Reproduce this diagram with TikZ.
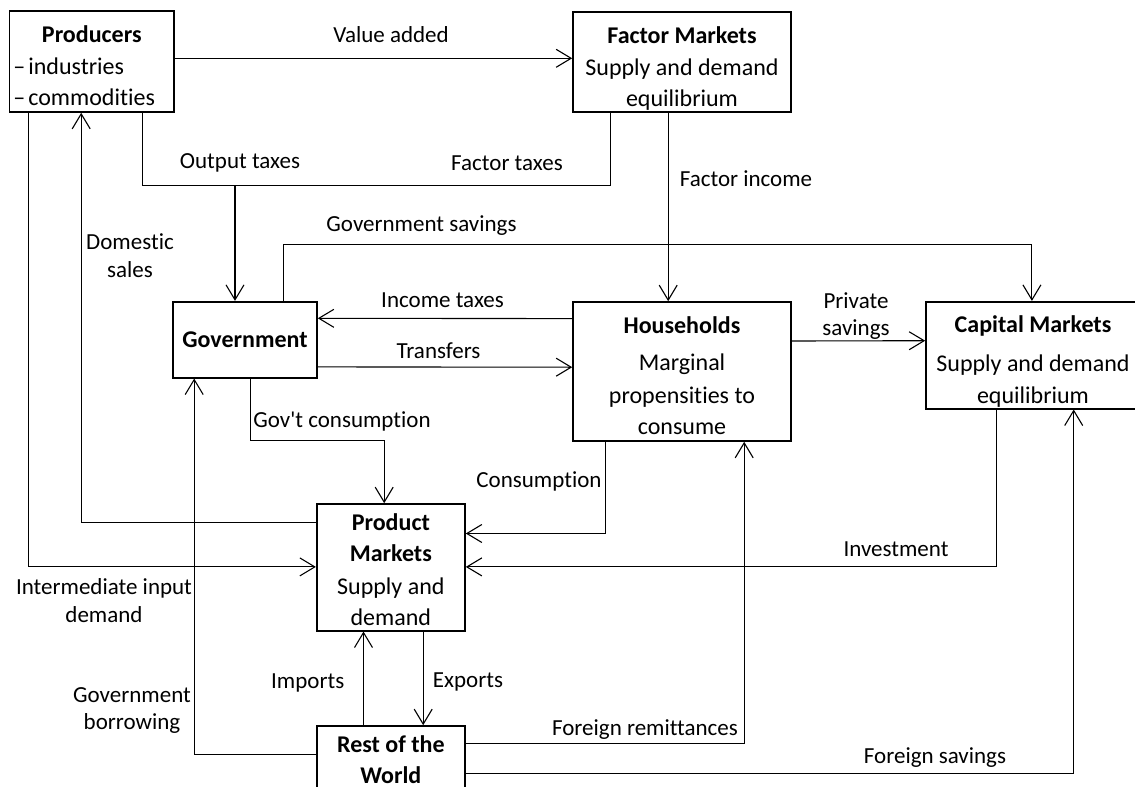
\documentclass[tikz,border=0pt]{standalone}
\usepackage{fontspec}
\newfontfamily\calib{Carlito}[Ligatures=NoCommon]
\usetikzlibrary{arrows.meta,calc}
\newcommand\boxfont{\calib\fontsize{24}{31.5}\selectfont}
\newcommand\lblfont{\calib\fontsize{23}{27.5}\selectfont}
\newcommand\pushdown[1]{\rule{0pt}{#1}}
\tikzset{
  box/.style={draw, line width=1.6pt, inner sep=0pt, align=center, font=\boxfont},
  conn/.style={line width=1.1pt},
  arr/.style={line width=1.1pt, -{Straight Barb[length=15pt,width=18pt]}},
  lbl/.style={inner sep=0pt, align=center, font=\lblfont},
}
\begin{document}
\begin{tikzpicture}[x=1pt,y=-1pt]
\useasboundingbox (0,0) rectangle (1135,787);
\fill[white] (0,0) rectangle (1135,787);
\clip (0,0) rectangle (1135,787);

% boxes
\node[box, minimum width=164.4pt, minimum height=101pt, text width=156.8pt, align=left] (prod) at (91.8,61.5)
  {\pushdown{26pt}\makebox[156.8pt]{\textbf{Producers}}\\–\hspace{3pt}industries\\–\hspace{3pt}commodities};
\node[box, minimum width=218pt, minimum height=100.3pt] (fm) at (682,61.85)
  {\pushdown{31pt}\textbf{Factor Markets}\\Supply and demand\\equilibrium};
\node[box, minimum width=144pt, minimum height=76pt] (gov) at (245,339.7)
  {\textbf{Government}};
\node[box, minimum width=218pt, minimum height=139pt] (hh) at (682,371.5)
  {\pushdown{25pt}\textbf{Households}\\[6pt]Marginal\\[1pt]propensities to\\consume};
\node[box, minimum width=214pt, minimum height=107pt] (cm) at (1033,355.2)
  {\pushdown{30pt}\textbf{Capital Markets}\\[7pt]Supply and demand\\[1pt]equilibrium};
\node[box, minimum width=148.3pt, minimum height=126.7pt] (pm) at (390.85,567.35)
  {\pushdown{21pt}\textbf{Product}\\\textbf{Markets}\\[1pt]Supply and\\demand};
\node[box, minimum width=148.3pt, minimum height=67pt] (row) at (390.85,759.5)
  {\textbf{Rest of the}\\\textbf{World}};

% connectors
\draw[arr] ([yshift=3.2pt]prod.east) -- ([yshift=3.2pt]prod.east -| fm.west);
\coordinate (tj) at (235,185.7);
\draw[conn] ([xshift=133.9pt]prod.south west) |- (tj) -| ([xshift=38.6pt]fm.south west);
\draw[arr] (tj) -- (tj |- gov.north);
\draw[arr] ([xshift=111pt]gov.north west) -- ++(0,-56) -| ([xshift=106.7pt]cm.north west);
\draw[arr] ([xshift=96pt]fm.south west) -- ([xshift=96pt]hh.north west);
\draw[arr] ([yshift=-17.4pt]hh.north west) -- ([yshift=-17.4pt]gov.north east);
\draw[arr] ([yshift=-66pt]gov.north east) -- ([yshift=-66pt]hh.north west);
\draw[arr] ([yshift=-39.8pt]hh.north east) -- ([yshift=-39.8pt]cm.north west);
\draw[arr] ([xshift=78pt]gov.south west) -- ++(0,62.3) -| ([xshift=68.3pt]pm.north west);
\draw[arr] ([xshift=33pt]hh.south west) |- ([yshift=-30.3pt]pm.north east);
\draw[arr] ([xshift=71.3pt]cm.south west) |- ([yshift=-63.7pt]pm.north east);
\draw[arr] ([xshift=19.9pt]prod.south west) |- ([yshift=-63.7pt]pm.north west);
\draw[arr] ([yshift=-19.3pt]pm.north west) -| ([xshift=72.4pt]prod.south west);
\draw[arr] ([yshift=-29.7pt]row.north west) -| ([xshift=22pt]gov.south west);
\draw[arr] ([xshift=47.6pt]row.north west) -- ([xshift=47.6pt]pm.south west);
\draw[arr] ([xshift=107.3pt]pm.south west) -- ([xshift=107.3pt]row.north west);
\draw[arr] ([yshift=-18.3pt]row.north east) -| ([xshift=172pt]hh.south west);
\draw[arr] ([yshift=-48pt]row.north east) -| ([xshift=148.5pt]cm.south west);

% labels
\node[lbl] (lva) at (391,35) {Value added};
\node[lbl] (lot) at (240,163) {Output taxes};
\node[lbl] (lft) at (507,163) {Factor taxes};
\node[lbl] (lfi) at (746,179) {Factor income};
\node[lbl] (lgs) at (421.5,225.7) {Government savings};
\node[lbl] (lds) at (130,255.5) {Domestic\\sales};
\node[lbl] (lit) at (442.5,300.7) {Income taxes};
\node[lbl] (ltr) at (438.5,350.7) {Transfers};
\node[lbl] (lps) at (856,316) {Private\\savings};
\node[lbl] (lgc) at (342,421) {Gov't consumption};
\node[lbl] (lco) at (539,481) {Consumption};
\node[lbl] (lin) at (896,549) {Investment};
\node[lbl] (lid) at (104,600.5) {Intermediate input\\demand};
\node[lbl] (lim) at (307.7,682.7) {Imports};
\node[lbl] (lex) at (468,681.7) {Exports};
\node[lbl] (lgb) at (132,710.5) {Government\\borrowing};
\node[lbl] (lfr) at (645,729.3) {Foreign remittances};
\node[lbl] (lfs) at (935,757.7) {Foreign savings};
\end{tikzpicture}
\end{document}
